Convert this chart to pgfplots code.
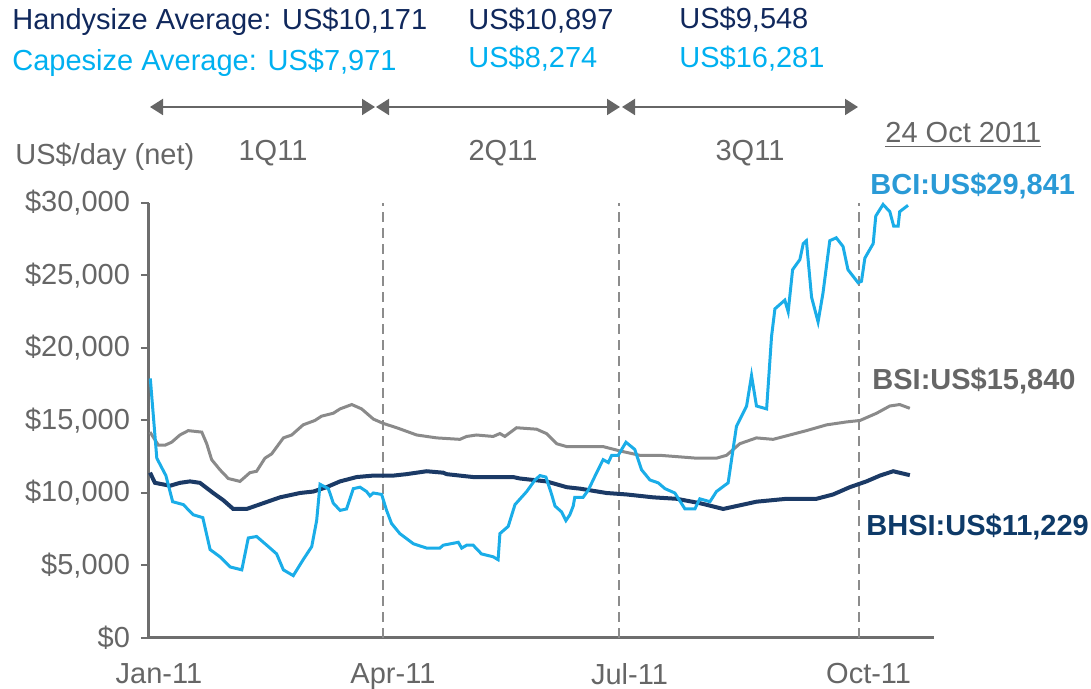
\documentclass[border=0pt]{standalone}
\usepackage{fontspec}
\setmainfont{Liberation Sans}
\usepackage{pgfplots}
\pgfplotsset{compat=1.18}
\usetikzlibrary{arrows.meta}
\definecolor{navy}{HTML}{10285C}
\definecolor{navyline}{HTML}{1B3A66}
\definecolor{cyanline}{HTML}{1AADE8}
\definecolor{capetext}{HTML}{00B0F0}
\definecolor{bcilab}{HTML}{2A9AD6}
\definecolor{bhsilab}{HTML}{0E3A68}
\definecolor{grayline}{HTML}{8A8A8A}
\definecolor{graytext}{HTML}{666666}
\definecolor{axisgray}{HTML}{6E6E6E}
\definecolor{dashgray}{HTML}{8C8C8C}
\newcommand{\fs}{\fontsize{14.5}{17}\selectfont}
\begin{document}
\begin{tikzpicture}
\begin{axis}[
  width=392.5pt, height=217.5pt, scale only axis,
  xmin=0, xmax=302, ymin=0, ymax=30000,
  axis x line=bottom, axis y line=left,
  axis line style={-, draw=axisgray, line width=1.5pt},
  xtick={0,90,181,273}, xticklabels={Jan-11,Apr-11,Jul-11,Oct-11},
  xtick pos=bottom, ytick pos=left,
  x tick style={draw=none},
  ytick={0,5000,10000,15000,20000,25000,30000},
  y tick style={draw=axisgray, line width=1pt},
  major tick length=4pt, tick align=outside,
  scaled y ticks=false,
  yticklabel={\$\pgfmathprintnumber{\tick}},
  /pgf/number format/.cd, 1000 sep={,}, assume math mode=true, /pgfplots/.cd,
  tick label style={font=\fs, text=graytext},
  x tick label style={xshift=5pt, yshift=-5pt},
  y tick label style={xshift=-2pt},
  clip=false,
]
\draw[dashgray, line width=1pt, dash pattern=on 5pt off 3pt] (axis cs:90,0) -- (axis cs:90,30000);
\draw[dashgray, line width=1pt, dash pattern=on 5pt off 3pt] (axis cs:181,0) -- (axis cs:181,30000);
\draw[dashgray, line width=1pt, dash pattern=on 5pt off 3pt] (axis cs:273,0) -- (axis cs:273,30000);

% BSI
\addplot[grayline, line width=1.5pt] coordinates {
(0.4,14200)(3.6,13300)(6.2,13300)(8.7,13500)(11.9,14000)(15.1,14300)(20.3,14200)(22.2,13400)(24.1,12300)(27.3,11600)(30.5,11000)(35.0,10800)(38.8,11400)(41.4,11500)(44.6,12400)(47.2,12700)(51.7,13800)(54.9,14000)(59.3,14700)(63.8,15000)(66.4,15300)(70.9,15500)(73.5,15800)(78.0,16100)(81.8,15800)(86.3,15100)(90.1,14800)(95.3,14500)(103.0,14000)(110.7,13800)(119.6,13700)(122.2,13900)(126.0,14000)(132.4,13900)(135.0,14100)(136.9,13900)(141.4,14500)(149.1,14400)(152.9,14100)(156.8,13400)(160.7,13200)(174.7,13200)(181.2,12900)(188.8,12600)(196.5,12600)(210.7,12400)(218.3,12400)(222.2,12600)(227.3,13400)(233.7,13800)(240.1,13700)(246.5,14000)(252.9,14300)(260.7,14700)(268.3,14900)(273.5,15000)(279.9,15500)(285.0,16000)(288.8,16100)(292.7,15840)
};
% BHSI
\addplot[navyline, line width=2pt] coordinates {
(0.4,11400)(2.3,10700)(8.1,10500)(11.9,10700)(15.8,10800)(19.6,10700)(24.7,10000)(28.6,9500)(32.4,8900)(37.6,8900)(44.0,9300)(50.4,9700)(58.1,10000)(63.2,10100)(68.3,10400)(73.5,10800)(79.9,11100)(86.3,11200)(94.0,11200)(99.1,11300)(106.8,11500)(113.2,11400)(114.5,11300)(124.7,11100)(140.1,11100)(142.7,11000)(152.9,10800)(160.7,10400)(165.8,10300)(176.0,10000)(183.7,9900)(194.0,9700)(203.0,9600)(211.9,9300)(220.9,8900)(228.6,9200)(233.7,9400)(245.3,9600)(256.8,9600)(263.2,9900)(269.6,10400)(276.0,10800)(281.2,11200)(286.3,11500)(292.7,11229)
};
% BCI
\addplot[cyanline, line width=1.5pt] coordinates {
(0.5,17900)(3.0,12400)(6.5,11200)(9.1,9400)(13.2,9200)(17.0,8500)(20.7,8300)(23.5,6100)(27.3,5600)(31.2,4900)(35.7,4700)(38.2,6900)(41.4,7000)(45.3,6400)(49.1,5800)(51.7,4700)(55.5,4300)(59.3,5400)(62.6,6300)(64.5,8100)(65.8,10600)(69.0,10300)(70.9,9300)(73.5,8800)(76.0,8900)(78.6,10300)(81.2,10400)(83.7,10100)(85.0,9800)(86.3,10000)(89.5,9900)(91.4,8800)(93.3,7900)(96.5,7200)(101.7,6500)(106.8,6200)(111.9,6200)(113.2,6400)(119.0,6600)(120.3,6200)(122.2,6400)(124.7,6400)(127.9,5800)(132.4,5600)(134.3,5400)(135.0,7200)(138.2,7700)(140.8,9200)(145.3,10100)(148.5,10900)(150.4,11200)(152.7,11100)(154.9,9900)(156.2,9100)(158.7,8700)(160.4,8100)(161.9,8500)(163.2,9100)(163.8,9700)(167.0,9700)(169.0,10200)(172.2,11400)(174.7,12300)(176.7,12100)(178.0,12600)(180.5,12600)(183.5,13500)(186.9,13000)(189.5,11600)(192.7,10900)(195.9,10700)(198.5,10300)(202.3,10000)(206.2,8900)(210.0,8900)(211.9,9600)(215.8,9400)(218.3,10100)(222.8,10700)(226.0,14600)(229.9,16000)(231.8,18100)(233.7,16000)(237.6,15800)(239.5,20800)(240.8,22700)(244.6,23300)(245.9,22500)(247.6,25400)(250.4,26100)(251.7,27200)(252.9,27400)(254.9,23500)(257.4,21800)(259.3,23800)(261.9,27400)(264.4,27600)(267.0,27000)(268.9,25400)(272.8,24500)(274.1,24600)(275.4,26200)(278.6,27200)(279.6,29100)(282.4,29900)(285.0,29400)(286.5,28400)(288.2,28400)(288.8,29400)(292.0,29841)
};
\end{axis}
\begin{scope}[x=0.5pt, y=-0.5pt, shift={(-74.5pt,319pt)}]
\tikzset{lab/.style={inner sep=0, font=\fs}}
\node[lab, anchor=base west, text=navy] at (12,30) {Handysize Average: US\$10,171};
\node[lab, anchor=base west, text=capetext] at (12,71) {Capesize Average: US\$7,971};
\node[lab, anchor=base west, text=navy] at (468,30) {US\$10,897};
\node[lab, anchor=base west, text=capetext] at (468,68) {US\$8,274};
\node[lab, anchor=base west, text=navy] at (679,29) {US\$9,548};
\node[lab, anchor=base west, text=capetext] at (679,68) {US\$16,281};
\draw[{Triangle[length=6.5pt,width=8pt]}-{Triangle[length=6.5pt,width=8pt]}, line width=1pt, graytext] (150,107) -- (375,107);
\draw[{Triangle[length=6.5pt,width=8pt]}-{Triangle[length=6.5pt,width=8pt]}, line width=1pt, graytext] (376,107) -- (620,107);
\draw[{Triangle[length=6.5pt,width=8pt]}-{Triangle[length=6.5pt,width=8pt]}, line width=1pt, graytext] (622,107) -- (858,107);
\node[lab, anchor=west, text=graytext] at (15,157) {US\$/day (net)};
\node[lab, text=graytext] at (273,153) {1Q11};
\node[lab, text=graytext] at (503,153) {2Q11};
\node[lab, text=graytext] at (750,153) {3Q11};
\node[lab, anchor=west, text=graytext] at (885,135) {\underline{24 Oct 2011}};
\node[lab, anchor=west, text=bcilab, font=\fs\bfseries] at (870,186) {BCI:US\$29,841};
\node[lab, anchor=west, text=graytext, font=\fs\bfseries] at (872,381) {BSI:US\$15,840};
\node[lab, anchor=west, text=bhsilab, font=\fs\bfseries] at (866,527) {BHSI:US\$11,229};
\pgfresetboundingbox
\useasboundingbox (0,0) rectangle (1091,689);
\end{scope}
\end{tikzpicture}
\end{document}
